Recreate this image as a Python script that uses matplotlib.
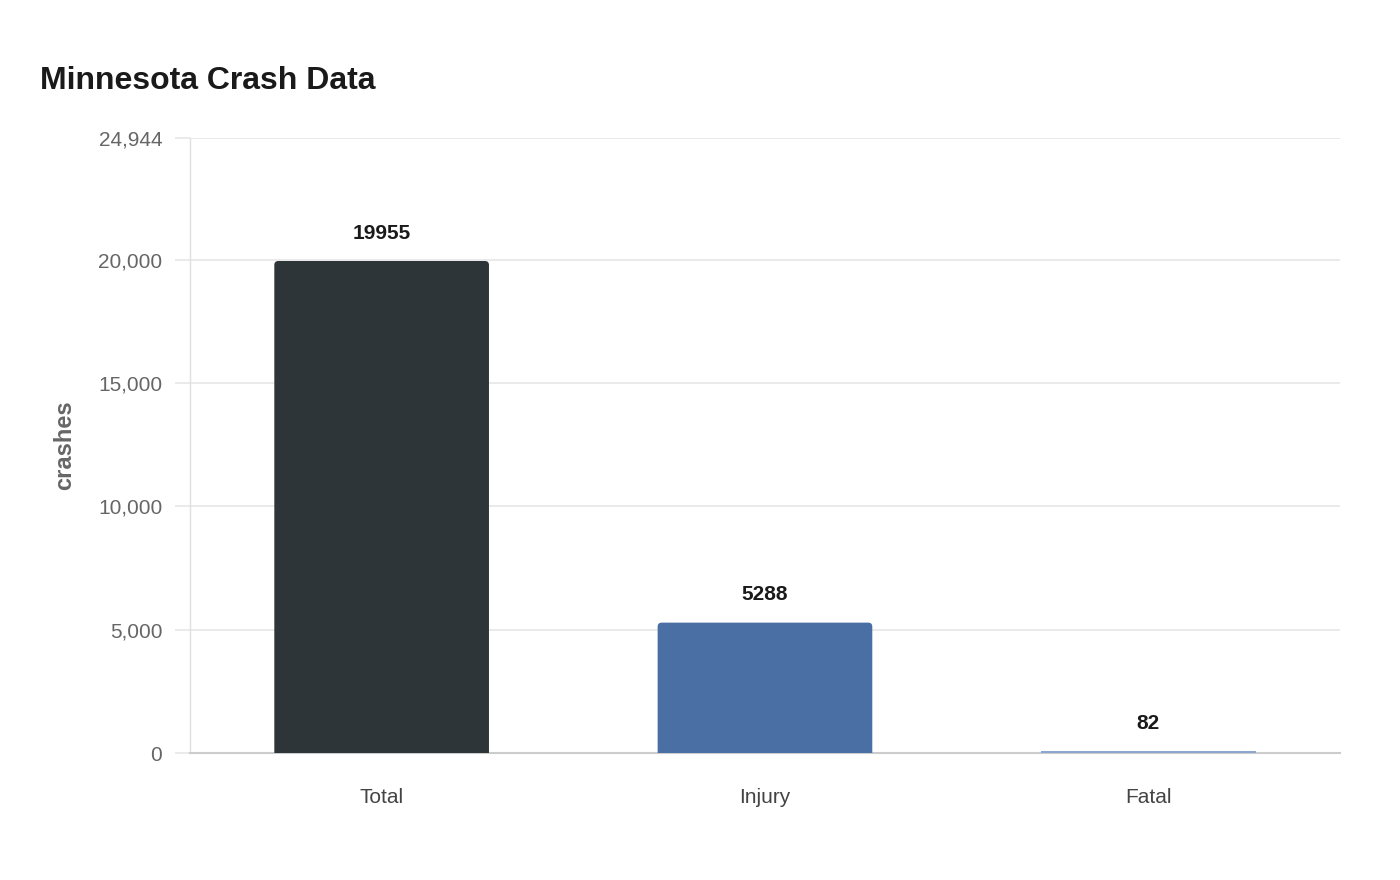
import matplotlib.pyplot as plt
from matplotlib.path import Path
from matplotlib.patches import PathPatch

categories = ["Total", "Injury", "Fatal"]
crashes = [19955, 5288, 82]
bar_colors = ["#2e3538", "#4a6fa5", "#8aa6d1"]
y_ticks = [0, 5000, 10000, 15000, 20000, 24944]
y_max = 24944

plt.rcParams['font.family'] = ['Liberation Sans', 'DejaVu Sans']

fig = plt.figure(figsize=(14, 8.8), dpi=100)
ax = fig.add_axes([0.1357, 0.1443, 0.9571 - 0.1357, 0.8432 - 0.1443])

x = list(range(len(categories)))
width = 0.56
bars = ax.bar(x, crashes, width=width, color=bar_colors, zorder=3)

# swap the taller bars for ones with rounded top corners
px_x = 1 / 383.0
px_y = y_max / 615.0
for rect in bars:
    h = rect.get_height()
    if h / px_y > 10:
        rect.set_visible(False)
        x0, y0 = rect.get_x(), rect.get_y()
        x1, y1 = x0 + rect.get_width(), y0 + h
        rx, ry = 4 * px_x, 4 * px_y
        verts = [(x0, y0), (x1, y0), (x1, y1 - ry), (x1, y1), (x1 - rx, y1),
                 (x0 + rx, y1), (x0, y1), (x0, y1 - ry), (x0, y0)]
        codes = [Path.MOVETO, Path.LINETO, Path.LINETO, Path.CURVE3, Path.CURVE3,
                 Path.LINETO, Path.CURVE3, Path.CURVE3, Path.CLOSEPOLY]
        ax.add_patch(PathPatch(Path(verts, codes), facecolor=rect.get_facecolor(),
                               edgecolor='none', zorder=3))

for xi, v in zip(x, crashes):
    ax.annotate(str(v), (xi, v), xytext=(0, 20), textcoords='offset points',
                ha='center', va='center', fontsize=15, fontweight='bold', color='#1a1a1a')

ax.set_xlim(-0.5, 2.5)
ax.set_ylim(0, y_max)
ax.set_yticks(y_ticks)
ax.set_yticklabels([f"{t:,}" for t in y_ticks])
ax.set_xticks(x)
ax.set_xticklabels(categories)

ax.grid(axis='y', color='#e6e6e6', linewidth=1.2, zorder=0)
ax.set_axisbelow(True)
ax.tick_params(axis='y', length=11, color='#e6e6e6', width=1.2, pad=9, labelsize=15, labelcolor='#666666')
ax.tick_params(axis='x', length=0, pad=25, labelsize=15, labelcolor='#444444')

for s in ['top', 'right']:
    ax.spines[s].set_visible(False)
ax.spines['left'].set_color('#e0e0e0')
ax.spines['left'].set_linewidth(1)
ax.spines['bottom'].set_color('#cccccc')
ax.spines['bottom'].set_linewidth(1.5)
ax.spines['bottom'].set_zorder(2.5)

ax.set_ylabel("crashes", fontsize=17, fontweight='bold', color='#666666', labelpad=16)
fig.text(40 / 1400, 1 - 81 / 880, "Minnesota Crash Data", fontsize=23, fontweight='bold',
         color='#1a1a1a', ha='left', va='center')

fig.savefig("out.png", dpi=100, facecolor='white')
